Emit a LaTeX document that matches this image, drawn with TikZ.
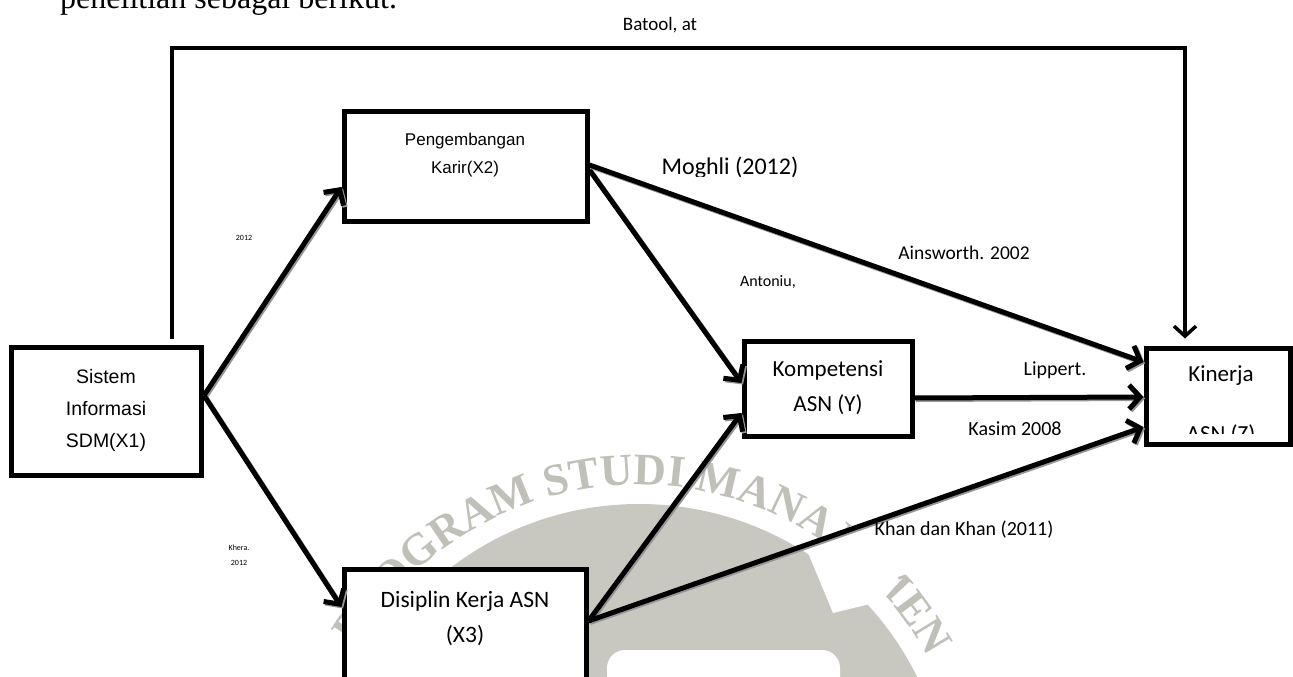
\documentclass[tikz,border=0pt]{standalone}
\usepackage{fontspec}
\setmainfont{Carlito}
\newfontfamily\arialf{Liberation Sans}
\newfontfamily\seriff{Liberation Serif}
\usetikzlibrary{arrows.meta,decorations.text,calc}
\definecolor{wm}{RGB}{200,200,193}
\definecolor{wmt}{RGB}{192,192,185}
\definecolor{shadowc}{RGB}{150,150,150}
\begin{document}
\begin{tikzpicture}[x=1pt,y=-1pt,
  box/.style={draw=black,line width=5pt,fill=white,inner sep=0pt,rectangle},
  conn/.style={line width=5pt,-{Straight Barb[length=11pt,width=24pt,line width=5pt]}},
  shadowline/.style={conn,draw=shadowc,transform canvas={shift={(1.5pt,-1.5pt)}}},
  topconn/.style={line width=3.5pt,-{Straight Barb[length=10pt,width=22pt,line width=3.5pt]}},
  lbl/.style={inner sep=0pt,font=\fontsize{20}{24}\selectfont},
  tiny/.style={inner sep=0pt,font=\fontsize{8}{15}\selectfont,align=center}
]
\useasboundingbox (0,0) rectangle (1293,677);
\clip (0,0) rectangle (1293,677);

% watermark
\fill[wm] (639,814) circle[radius=310];
\fill[white,rounded corners=18pt] (607,650) rectangle (840,720);
\path[decorate,decoration={text along path,text align=center,text color=wmt,
  text={|\seriff\bfseries\fontsize{45}{45}\selectfont|PROGRAM STUDI MANAJEMEN}}]
  (639,814) ++(-209:329) arc[start angle=-209,end angle=31,radius=329];
\fill[white] (806,548) -- (833,613) -- (882,601) -- (899,582) -- (893,552) -- (868,518) -- cycle;

% top text
\node[anchor=base west,inner sep=0pt,font=\seriff\fontsize{32}{36}\selectfont] (intro) at (60,9) {penelitian sebagai berikut.};

% boxes
\node[box,minimum width=190pt,minimum height=128pt] (X1) at (106.5,411.5) {};
\node[box,minimum width=243pt,minimum height=110pt] (X2) at (465.5,166) {};
\node[box,minimum width=168pt,minimum height=95pt] (Y) at (828,388.5) {};
\node[box,minimum width=144pt,minimum height=96pt] (K) at (1218,396) {};
\node[box,minimum width=242pt,minimum height=122pt] (X3) at (465,630) {};

% box texts
\node[font=\arialf\fontsize{19.5}{32}\selectfont,align=center,inner sep=0pt] (X1t) at (106,410) {Sistem\\Informasi\\SDM(X1)};
\node[font=\arialf\fontsize{17}{28}\selectfont,align=center,inner sep=0pt] (X2t) at (465,155) {Pengembangan\\Karir(X2)};
\node[font=\fontsize{23}{35}\selectfont,align=center,inner sep=0pt] (Yt) at (828,388) {Kompetensi\\ASN (Y)};
\node[font=\fontsize{23.5}{35}\selectfont,align=center,inner sep=0pt] (X3t) at (465,618) {Disiplin Kerja ASN\\(X3)};
\node[font=\fontsize{23}{28}\selectfont,inner sep=0pt] (Kt1) at (1221,376) {Kinerja};
\begin{scope}
\clip (1150,415) rectangle (1285,433);
\node[font=\fontsize{23}{28}\selectfont,inner sep=0pt,anchor=base] (Kt2) at (1221,441.5) {ASN (Z)};
\end{scope}

% connector end points on the boxes
\coordinate (s1) at ([yshift=16pt]X1.east);
\coordinate (s2a) at ([yshift=1pt]X2.east);
\coordinate (s2b) at ([yshift=-4pt]X2.east);
\coordinate (s3) at ([yshift=9pt]X3.east);
\coordinate (sy) at ([yshift=-9.5pt]Y.east);
\coordinate (e12) at ([yshift=-21pt]X2.west);
\coordinate (e13) at ([yshift=23pt]X3.west);
\coordinate (e2y) at ([yshift=5.5pt]Y.west);
\coordinate (e2k) at ([yshift=34pt]K.west);
\coordinate (e3y) at ([yshift=-24.5pt]Y.west);
\coordinate (e3k) at ([yshift=-31pt]K.west);
\coordinate (eyk) at ([yshift=-1pt]K.west);
\foreach \a/\b in {s1/e12, s1/e13, s2b/e2y, s2a/e2k, s3/e3y, s3/e3k, sy/eyk}{
  \draw[shadowline] (\a) -- (\b);
  \draw[conn] (\a) -- (\b);
}
\coordinate (tl) at (172,48);
\coordinate (tr) at (1185,48);
\draw[topconn] ([xshift=65.5pt,yshift=6pt]X1.north) -- (tl) -- (tr) -- ([xshift=-33pt,yshift=7pt]K.north);

% labels
\node[lbl,font=\fontsize{19}{24}\selectfont] (batool) at (660,25) {Batool, at};
\begin{scope}
\clip (620,140) rectangle (840,176);
\node[inner sep=0pt,anchor=base,font=\fontsize{24}{28}\selectfont] (moghli) at (730,174) {Moghli (2012)};
\end{scope}
\node[lbl,font=\fontsize{19.5}{24}\selectfont] (ains) at (964,253) {Ainsworth. 2002};
\node[lbl,font=\fontsize{16}{20}\selectfont] (anto) at (768,282) {Antoniu,};
\node[lbl] (lipp) at (1055,370) {Lippert.};
\node[lbl,fill=white,inner sep=4pt] (kasim) at (1015,429) {Kasim 2008};
\node[lbl] (khan) at (964,530) {Khan dan Khan (2011)};
\node[tiny] (t2012) at (244,238) {2012};
\node[tiny] (khera) at (239,555) {Khera.\\2012};
\end{tikzpicture}
\end{document}
